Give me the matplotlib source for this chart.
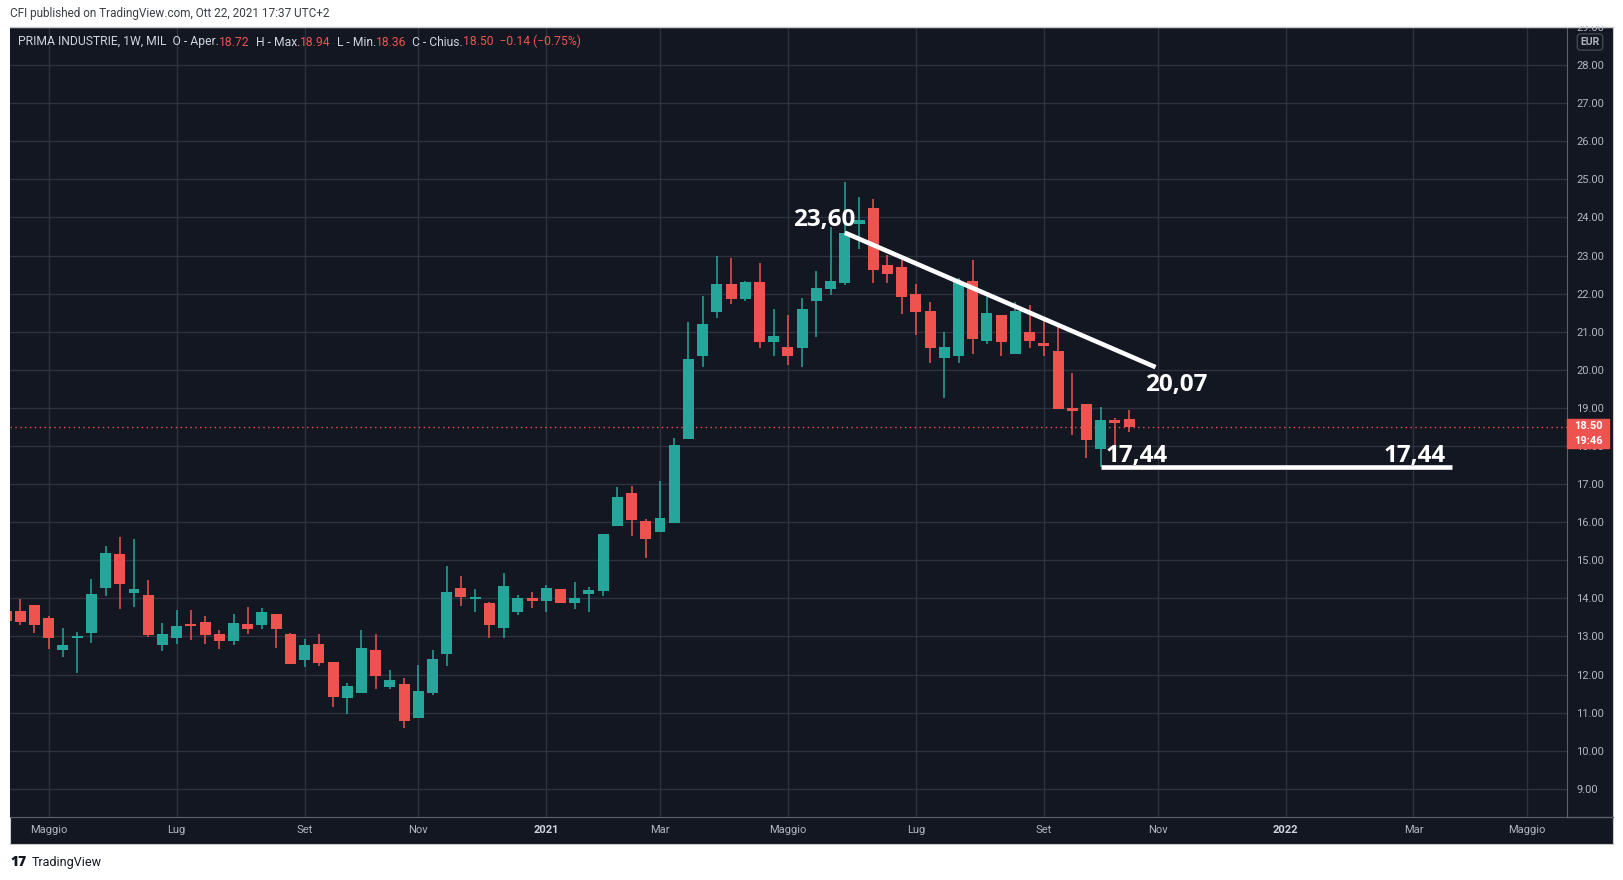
import numpy as np
import pandas as pd
import matplotlib
matplotlib.use("Agg")
import matplotlib.pyplot as plt
import matplotlib.dates as mdates
import matplotlib.transforms as mtransforms
from matplotlib.patches import Rectangle
from matplotlib.lines import Line2D

# weekly candles, PRIMA INDUSTRIE (MIL), first bar = week of 13 Apr 2020
opens = [13.67, 13.67, 13.82, 13.48, 12.65, 12.97, 13.09, 14.27, 15.16, 14.14,
         14.09, 12.77, 12.96, 13.31, 13.38, 13.06, 12.88, 13.33, 13.30, 13.59,
         13.06, 12.38, 12.80, 12.33, 11.38, 11.51, 12.64, 11.67, 11.75, 10.86,
         11.51, 12.54, 14.27, 13.99, 13.88, 13.22, 13.64, 14.01, 13.93, 14.24,
         13.88, 14.11, 14.19, 15.90, 16.76, 16.03, 15.74, 15.98, 18.18, 20.36,
         21.51, 22.25, 21.86, 22.30, 20.73, 20.60, 20.57, 21.80, 22.12, 22.28,
         23.82, 24.24, 22.75, 22.70, 21.99, 21.54, 20.31, 20.36, 22.33, 20.75,
         21.44, 20.41, 20.99, 20.70, 20.49, 18.99, 19.10, 17.92, 18.68, 18.72]
highs = [13.80, 13.98, 13.82, 13.54, 13.22, 13.12, 14.51, 15.37, 15.61, 15.56,
         14.48, 13.35, 13.69, 13.69, 13.54, 13.17, 13.59, 13.77, 13.75, 13.59,
         13.09, 12.93, 13.06, 12.33, 11.78, 13.17, 13.06, 12.12, 11.91, 12.25,
         12.64, 14.85, 14.59, 14.24, 13.90, 14.66, 14.09, 14.17, 14.35, 14.24,
         14.43, 14.30, 15.69, 16.92, 16.95, 16.08, 17.08, 18.21, 21.25, 21.93,
         22.98, 22.93, 22.33, 22.80, 21.59, 21.44, 21.88, 22.59, 23.75, 24.93,
         24.53, 24.48, 23.01, 22.88, 22.25, 21.78, 20.99, 22.40, 22.88, 21.90,
         21.44, 21.78, 21.70, 21.28, 21.15, 19.91, 19.10, 19.02, 18.73, 18.94]
lows = [13.35, 13.31, 13.10, 12.67, 12.47, 12.04, 12.82, 14.06, 13.72, 13.77,
        12.98, 12.62, 12.80, 12.91, 12.80, 12.67, 12.77, 13.06, 13.20, 12.70,
        12.27, 12.20, 12.22, 11.15, 10.96, 11.51, 11.62, 11.62, 10.59, 10.86,
        11.46, 12.22, 13.80, 13.64, 12.96, 12.96, 13.56, 13.75, 13.64, 13.88,
        13.72, 13.64, 14.06, 15.90, 15.64, 15.06, 15.74, 15.98, 18.18, 20.07,
        21.35, 21.72, 21.80, 20.57, 20.36, 20.12, 20.07, 20.86, 21.96, 22.22,
        23.17, 22.28, 22.28, 21.46, 20.91, 20.18, 19.26, 20.18, 20.41, 20.68,
        20.36, 20.41, 20.57, 20.36, 18.97, 18.29, 17.68, 17.44, 17.92, 18.36]
closes = [13.40, 13.38, 13.30, 12.97, 12.77, 13.00, 14.11, 15.19, 14.37, 14.24,
          13.04, 13.06, 13.27, 13.28, 13.04, 12.88, 13.35, 13.20, 13.64, 13.20,
          12.27, 12.77, 12.30, 11.41, 11.70, 12.70, 11.96, 11.86, 10.78, 11.57,
          12.41, 14.17, 14.03, 14.01, 13.30, 14.32, 14.01, 13.93, 14.27, 13.88,
          14.01, 14.22, 15.69, 16.66, 16.06, 15.56, 16.11, 18.02, 20.28, 21.20,
          22.25, 21.86, 22.30, 20.73, 20.89, 20.36, 21.59, 22.14, 22.33, 23.60,
          23.93, 22.62, 22.51, 21.91, 21.51, 20.57, 20.60, 22.30, 20.81, 21.49,
          20.73, 21.54, 20.75, 20.62, 18.97, 18.92, 18.15, 18.68, 18.60, 18.50]
weeks = pd.date_range("2020-04-13", periods=len(opens), freq="W-MON")

tick_dates = ["2020-05-04", "2020-07-06", "2020-09-07", "2020-11-02", "2021-01-04",
              "2021-03-01", "2021-05-03", "2021-07-05", "2021-09-06", "2021-11-01",
              "2022-01-03", "2022-03-07", "2022-05-02"]
tick_labels = ["Maggio", "Lug", "Set", "Nov", "2021", "Mar", "Maggio", "Lug",
               "Set", "Nov", "2022", "Mar", "Maggio"]
price_ticks = list(range(9, 30))

last_price = 18.50
trend_dates = ["2021-05-31", "2021-10-31"]
trend_prices = [23.60, 20.07]
support = 17.44
support_dates = ["2021-10-04", "2022-03-26"]

legend_parts = [("PRIMA INDUSTRIE, 1W, MIL  O - Aper.", "light"), ("18.72", "red"),
                ("  H - Max.", "light"), ("18.94", "red"),
                ("  L - Min.", "light"), ("18.36", "red"),
                ("  C - Chius.", "light"), ("18.50  \u22120.14 (\u22120.75%)", "red")]

BG = "#131722"
GRID = "#2e3240"
UP = "#26a69a"
DOWN = "#ef5350"
AXTXT = "#b2b5be"
W, H = 1624, 880

plt.rcParams["font.family"] = ["Roboto", "DejaVu Sans"]

fig = plt.figure(figsize=(W / 100, H / 100), dpi=100, facecolor="white")

# dark panel behind chart + scales
bg = fig.add_axes([10 / W, (H - 844) / H, 1603 / W, 817 / H], facecolor=BG)
bg.set_xticks([])
bg.set_yticks([])
for s in bg.spines.values():
    s.set_color("#c9cbd1")

ax = fig.add_axes([10 / W, 63 / H, 1557 / W, 790 / H], facecolor=BG)
x_may = mdates.date2num(pd.Timestamp("2020-05-04"))
ax.set_xlim(x_may - 19.05, x_may + 747.6)
ax.set_ylim(8.26, 29.0)

xs = mdates.date2num(weeks)
o = np.array(opens); c = np.array(closes)
cols = [UP if cc >= oo else DOWN for oo, cc in zip(o, c)]
ax.vlines(xs, lows, highs, colors=cols, lw=1.1, zorder=3)
ax.bar(xs, np.maximum(np.abs(c - o), 0.05), bottom=np.minimum(o, c),
       width=5.4, color=cols, zorder=4)

ax.axhline(last_price, color=DOWN, lw=1, ls=(0, (1, 2.5)), zorder=2)

# drawings
td = mdates.date2num(pd.to_datetime(trend_dates))
ax.plot(td, trend_prices, color="white", lw=3.3, solid_capstyle="butt", zorder=6)
sd = mdates.date2num(pd.to_datetime(support_dates))
ax.plot(sd, [support, support], color="white", lw=3.3, solid_capstyle="butt", zorder=6)

lab = dict(color="white", fontsize=17.5, fontweight="bold", family="Open Sans",
           va="center", zorder=7)
ax.text(td[0] + 5.4, 23.93, "23,60", ha="right", **lab)
ax.text(td[1] - 5.0, 19.60, "20,07", ha="left", **lab)
ax.text(sd[0] + 2.5, 17.73, "17,44", ha="left", **lab)
ax.text(sd[1] - 33.5, 17.73, "17,44", ha="left", **lab)

# axes styling
ax.set_xticks(mdates.date2num(pd.to_datetime(tick_dates)))
ax.set_xticklabels(tick_labels)
ax.set_yticks(price_ticks)
ax.set_yticklabels([f"{p:.2f}" for p in price_ticks])
ax.yaxis.tick_right()
ax.tick_params(axis="both", length=0, colors=AXTXT, labelsize=8)
ax.tick_params(axis="y", pad=6.5)
ax.tick_params(axis="x", pad=6)
for t in ax.get_xticklabels():
    if t.get_text() in ("2021", "2022"):
        t.set_fontweight("bold")
        t.set_color("#d1d4dc")
ax.grid(True, color=GRID, lw=1)
ax.set_axisbelow(True)
for side in ("left", "top"):
    ax.spines[side].set_visible(False)
for side in ("right", "bottom"):
    ax.spines[side].set_color("#5d606b")

fig.add_artist(Line2D([1567 / W, 1613 / W], [63 / H, 63 / H], color="#5d606b", lw=1))

# last price tag (covers most of the 18.00 label, as in TradingView)
trans = mtransforms.blended_transform_factory(ax.transAxes, ax.transData)
ax.add_patch(Rectangle((1.0, 17.94), 42 / 1557, 0.77, transform=trans,
                       color=DOWN, clip_on=False, zorder=8))
ax.text(1 + 21 / 1557, 18.53, f"{last_price:.2f}", transform=trans, ha="center",
        va="center", color="white", fontsize=8, fontweight="bold", zorder=9)
ax.text(1 + 21 / 1557, 18.14, "19:46", transform=trans, ha="center",
        va="center", color="white", fontsize=8, fontweight="bold", zorder=9)
ax.text(1 + 23 / 1557, 0.981, "EUR", transform=ax.transAxes, ha="center", va="center",
        color=AXTXT, fontsize=7.5, fontweight="bold",
        bbox=dict(boxstyle="round,pad=0.3", fc=BG, ec="#434651", lw=1))

# crop the half-shown top label, then the header
fig.add_artist(Rectangle((0, 1 - 26.5 / H), 1, 26.5 / H, transform=fig.transFigure,
                         fc="white", ec="none", zorder=10))
fig.add_artist(Line2D([10 / W, 1613 / W], [1 - 27 / H] * 2, color="#c9cbd1", lw=1, zorder=11))
fig.text(10 / W, 1 - 14 / H, "CFI published on TradingView.com, Ott 22, 2021 17:37 UTC+2",
         fontsize=8.5, color="#3b3e47", va="center", zorder=12)

# legend line, pieces chained left to right
prev = fig.text(18 / W, 1 - 42 / H, legend_parts[0][0], fontsize=8.7, color="#d1d4dc",
                va="center")
for txt, kind in legend_parts[1:]:
    prev = ax.annotate(txt, xy=(1, 0), xycoords=prev, xytext=(0, 0),
                       textcoords="offset points", va="bottom", ha="left", fontsize=8.7,
                       color=DOWN if kind == "red" else "#d1d4dc", annotation_clip=False)

# footer
fig.text(10 / W, 1 - 862 / H, "17", fontsize=10, fontweight="heavy", family="Open Sans",
         color="#131722", va="center")
fig.text(32 / W, 1 - 862 / H, "TradingView", fontsize=9, color="#131722", va="center")

fig.savefig("out.png", dpi=100, facecolor="white")
